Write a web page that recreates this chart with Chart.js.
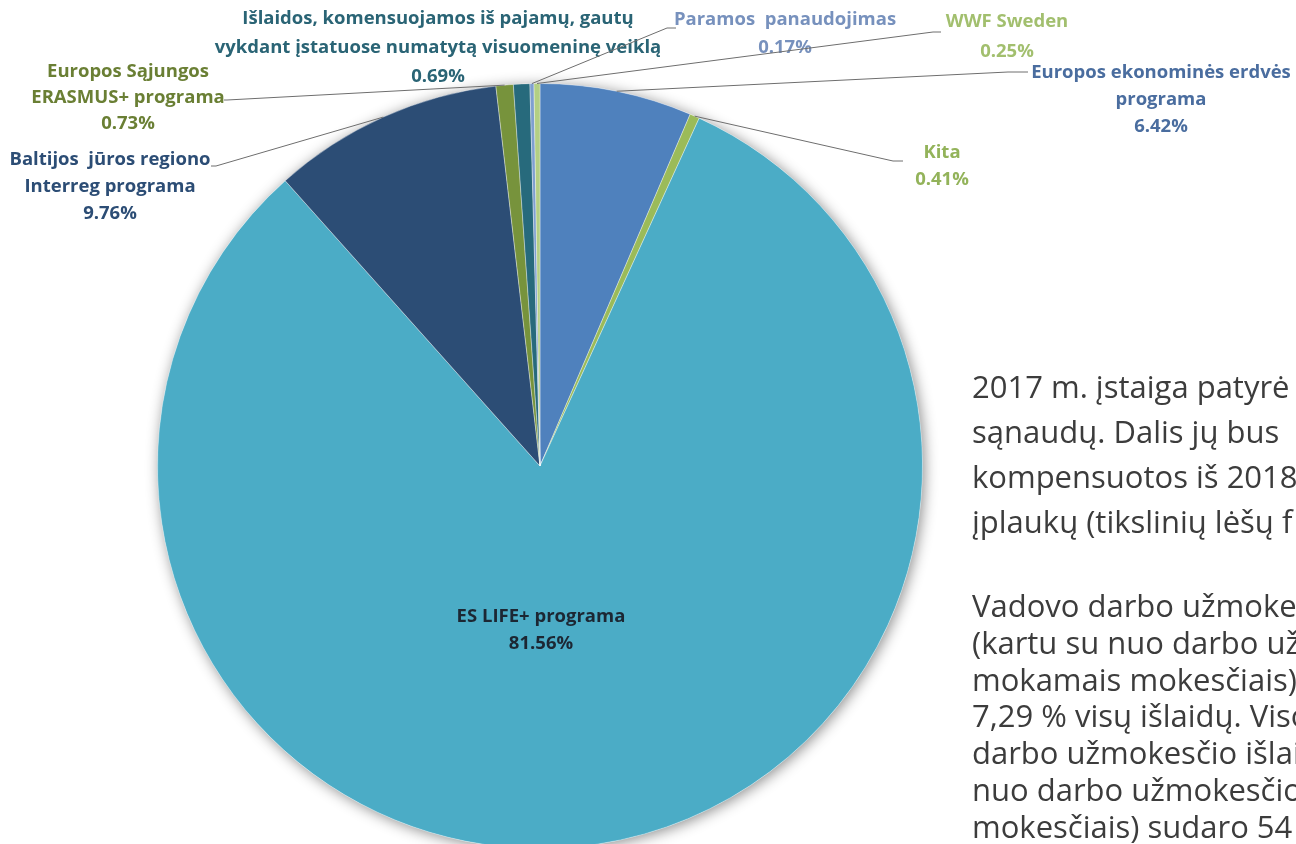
<!DOCTYPE html>
<html lang="lt">
<head>
<meta charset="utf-8">
<title>Pajamų šaltiniai</title>
<script src="https://cdn.jsdelivr.net/npm/chart.js@4.4.1/dist/chart.umd.min.js"></script>
<style>
  html, body { margin: 0; padding: 0; background: #fff; overflow: hidden; width: 1296px; height: 844px; }
  #wrap { position: absolute; left: 0; top: 0; width: 1296px; height: 900px; }
  #tekstas {
    position: absolute; left: 972px; top: 0; width: 600px;
    font-family: "Open Sans", sans-serif; font-size: 31px; color: #3c3c3c;
    white-space: nowrap;
  }
  #tekstas p { margin: 0; position: absolute; left: 0; }
  #p1 { top: 364px; line-height: 45px; }
  #p2 { top: 587px; line-height: 36.8px; }
</style>
</head>
<body>
<div id="wrap"><canvas id="pyragas"></canvas></div>
<div id="tekstas">
  <p id="p1">2017 m. įstaiga patyrė<br>sąnaudų. Dalis jų bus<br>kompensuotos iš 2018<br>įplaukų (tikslinių lėšų f</p>
  <p id="p2">Vadovo darbo užmokestis<br>(kartu su nuo darbo užmokesčio<br>mokamais mokesčiais)<br>7,29 % visų išlaidų. Viso<br>darbo užmokesčio išlaidos<br>nuo darbo užmokesčio<br>mokesčiais) sudaro 54</p>
</div>
<script>
// kategorijos (eilės tvarka pagal laikrodžio rodyklę nuo viršaus)
const kategorijos = [
  ["Europos ekonominės erdvės", "programa"],
  ["Kita"],
  ["ES LIFE+ programa"],
  ["Baltijos  jūros regiono", "Interreg programa"],
  ["Europos Sąjungos", "ERASMUS+ programa"],
  ["Išlaidos, komensuojamos iš pajamų, gautų", "vykdant įstatuose numatytą visuomeninę veiklą"],
  ["Paramos  panaudojimas"],
  ["WWF Sweden"]
];
const procentai = [6.42, 0.41, 81.56, 9.76, 0.73, 0.69, 0.17, 0.25];

const spalvos = ["#4f81bd", "#9bbb59", "#4bacc6", "#2c4d75", "#77933c", "#276a7c", "#7f9fd0", "#b3cf84"];
const teksto_spalvos = ["#4a6d9f", "#93b35a", "#1c2733", "#2c4d75", "#6a7f34", "#2a6475", "#7791bd", "#a2bf6e"];

// etikečių išdėstymas: centras ir linijos lūžis
const isdestymas = [
  { x: 1161, y: 73, lh: 27, linija: [[1008, 72], [1028, 72]] },
  { x: 942, y: 153, lh: 27, linija: [[893, 161], [903, 161]] },
  { x: 541, y: 617, lh: 27, linija: null },
  { x: 110, y: 160, lh: 27, linija: [[216, 166], [211, 166]] },
  { x: 128, y: 72, lh: 26, linija: [[227, 100], [224, 100]] },
  { x: 438, y: 19, lh: 29, linija: null },
  { x: 785, y: 20, lh: 28, linija: [[667, 28], [676, 28]] },
  { x: 1007, y: 22, lh: 30, linija: [[933, 32], [941, 32]] }
];

const seselis = {
  id: "seselis",
  beforeDatasetsDraw(chart) {
    const a = chart.getDatasetMeta(0).data[0];
    if (!a) return;
    const ctx = chart.ctx;
    ctx.save();
    ctx.shadowColor = "rgba(0,0,0,0.45)";
    ctx.shadowBlur = 14;
    ctx.shadowOffsetX = 2;
    ctx.shadowOffsetY = 2;
    ctx.fillStyle = "#ffffff";
    ctx.beginPath();
    ctx.arc(a.x, a.y, a.outerRadius, 0, Math.PI * 2);
    ctx.fill();
    ctx.restore();
  }
};

const etiketes = {
  id: "etiketes",
  afterDatasetsDraw(chart) {
    const ctx = chart.ctx;
    const meta = chart.getDatasetMeta(0);
    ctx.save();
    meta.data.forEach((arc, i) => {
      const d = isdestymas[i];
      if (d.linija) {
        const vid = (arc.startAngle + arc.endAngle) / 2;
        ctx.strokeStyle = "#6e6e6e";
        ctx.lineWidth = 1;
        ctx.beginPath();
        ctx.moveTo(arc.x + Math.cos(vid) * arc.outerRadius, arc.y + Math.sin(vid) * arc.outerRadius);
        d.linija.forEach(p => ctx.lineTo(p[0], p[1]));
        ctx.stroke();
      }
      const eilutes = kategorijos[i].concat([procentai[i].toFixed(2) + "%"]);
      ctx.fillStyle = teksto_spalvos[i];
      ctx.font = "bold 18.5px 'Open Sans', sans-serif";
      ctx.textAlign = "center";
      ctx.textBaseline = "middle";
      eilutes.forEach((t, j) => ctx.fillText(t, d.x, d.y + j * d.lh));
    });
    ctx.restore();
  }
};

new Chart(document.getElementById("pyragas"), {
  type: "pie",
  data: {
    labels: kategorijos.map(k => k.join(" ")),
    datasets: [{
      data: procentai,
      backgroundColor: spalvos,
      borderColor: "rgba(255,255,255,0.35)",
      borderWidth: 1
    }]
  },
  options: {
    responsive: true,
    maintainAspectRatio: false,
    animation: false,
    layout: { padding: { top: 83, bottom: 51, left: 0, right: 216 } },
    plugins: {
      legend: { display: false },
      tooltip: { enabled: false }
    }
  },
  plugins: [seselis, etiketes]
});
</script>
</body>
</html>
